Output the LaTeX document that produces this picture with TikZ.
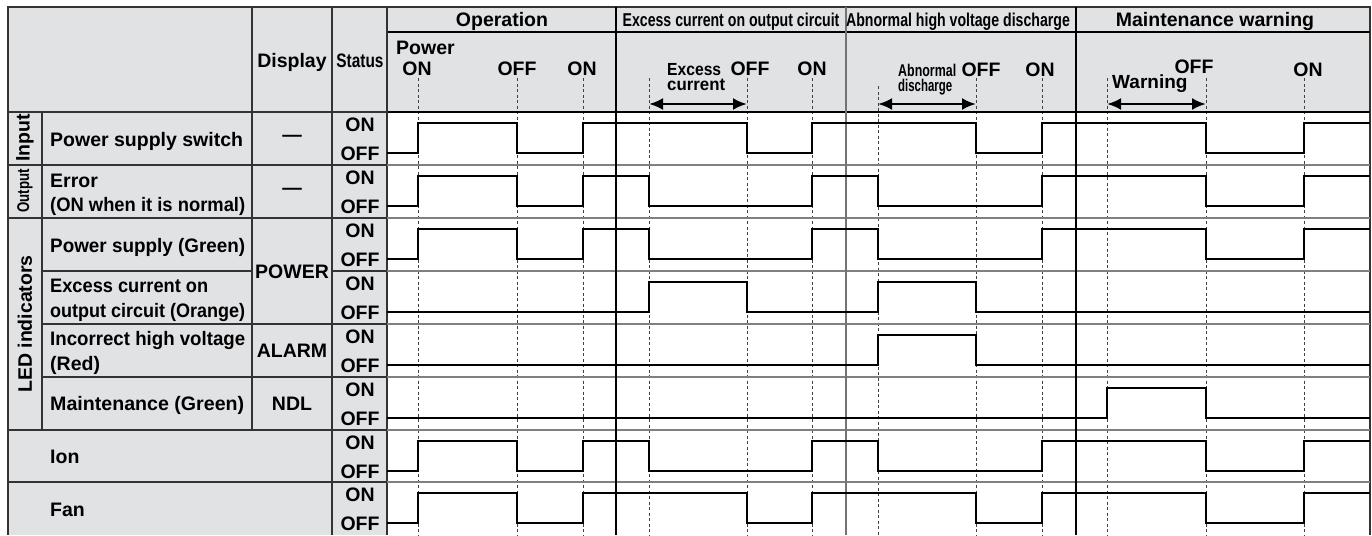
\documentclass[tikz,border=0pt]{standalone}
\usepackage{fontspec}
\setmainfont{Liberation Sans}
\usepackage{graphicx}
\usetikzlibrary{arrows.meta}
\definecolor{hdr}{RGB}{225,226,228}
\newcommand{\mybf}{\fontsize{19.5}{22}\selectfont\bfseries}
\newcommand{\mysm}{\fontsize{17.5}{20}\selectfont\bfseries}
\newcommand{\mycond}[2][0.77]{\scalebox{#1}[1]{#2}}
\newcommand{\fitw}[2]{\resizebox{#1}{\height}{#2}}
\begin{document}
\begin{tikzpicture}[x=1pt,y=-1pt,
  every node/.style={inner sep=0pt,font=\mybf},
  tline/.style={draw=black!80,line width=1.1pt},
  wline/.style={draw=black!50,line width=1.1pt},
  secline/.style={draw=black,line width=1.1pt},
  dashln/.style={draw=black!75,line width=0.9pt,dash pattern=on 3pt off 2.5pt},
  wave/.style={draw=black,line width=2.6pt,line join=miter,line cap=butt},
  dbl/.style={line width=2.6pt,{Latex[length=14pt,width=12pt]}-{Latex[length=14pt,width=12pt]}},
  lab/.style={anchor=base west},
  cen/.style={anchor=base}]
\useasboundingbox (0,0) rectangle (1372,535);
\fill[white] (0,0) rectangle (1372,535);
% grey areas
\fill[hdr] (8,7) rectangle (1370,112);
\fill[hdr] (8,112) rectangle (387,535);
% dashed time markers
\foreach \x in {418,517,583,649,747,812,976,1042,1107,1206,1304}
  \draw[dashln] (\x,78) -- (\x,535);
\draw[dashln] (878,86) -- (878,535);
% table lines (left part)
\draw[tline] (8,535) -- (8,7) -- (1370,7) -- (1370,535);
\draw[tline] (8,112) -- (387,112);
\draw[secline] (387,112) -- (1370,112);
\draw[secline] (387,32) -- (1370,32);
\draw[tline] (252,7) -- (252,430);
\draw[tline] (332,7) -- (332,535);
\draw[tline] (387,7) -- (387,535);
\draw[tline] (42,112) -- (42,430);
\draw[tline] (8,165) -- (387,165);
\draw[tline] (8,218) -- (387,218);
\draw[tline] (42,271) -- (252,271);
\draw[tline] (332,271) -- (387,271);
\draw[tline] (42,324) -- (387,324);
\draw[tline] (42,377) -- (387,377);
\draw[tline] (8,430) -- (387,430);
\draw[tline] (8,482) -- (387,482);
% row separators in waveform area
\foreach \y in {165,218,271,324,377,430,482}
  \draw[wline] (387,\y) -- (1370,\y);
% section dividers
\draw[secline] (616,7) -- (616,535);
\draw[draw=black!55,line width=1.1pt] (846,7) -- (846,535);
\draw[secline] (1076,7) -- (1076,535);
% waveforms
\draw[wave] (387,153) -| (418,123) -| (517,153) -| (583,123) -| (747,153) -| (812,123) -| (976,153) -| (1042,123) -| (1206,153) -| (1304,123) -- (1370,123);
\draw[wave] (387,206) -| (418,176) -| (517,206) -| (583,176) -| (649,206) -| (812,176) -| (878,206) -| (1042,176) -| (1206,206) -| (1304,176) -- (1370,176);
\draw[wave] (387,259) -| (418,229) -| (517,259) -| (583,229) -| (649,259) -| (812,229) -| (878,259) -| (1042,229) -| (1206,259) -| (1304,229) -- (1370,229);
\draw[wave] (387,312) -| (649,282) -| (747,312) -| (878,282) -| (976,312) -- (1370,312);
\draw[wave] (387,365) -| (878,335) -| (976,365) -- (1370,365);
\draw[wave] (387,418) -| (1107,388) -| (1206,418) -- (1370,418);
\draw[wave] (387,471) -| (418,441) -| (517,471) -| (583,441) -| (649,471) -| (812,441) -| (878,471) -| (1042,441) -| (1206,471) -| (1304,441) -- (1370,441);
\draw[wave] (387,523) -| (418,493) -| (517,523) -| (583,493) -| (747,523) -| (812,493) -| (976,523) -| (1042,493) -| (1206,523) -| (1304,493) -- (1370,493);
% duration arrows
\coordinate (a1s) at (649,104); \coordinate (a1e) at (747,104);
\coordinate (a2s) at (878,104); \coordinate (a2e) at (976,104);
\coordinate (a3s) at (1107,104); \coordinate (a3e) at (1206,104);
\draw[dbl] (a1s) -- (a1e);
\draw[dbl] (a2s) -- (a2e);
\draw[dbl] (a3s) -- (a3e);
% header texts
\node[cen] (hDisp) at (292,67) {Display};
\node[cen] (hStat) at (360,67) {\mycond[0.79]{Status}};
\node[cen] (hOp) at (502,26.5) {Operation};
\node[cen,font=\fontsize{18.6}{20}\selectfont\bfseries] (hEx) at (731,26.5) {\mycond[0.76]{Excess current on output circuit}};
\node[cen,font=\fontsize{18.6}{20}\selectfont\bfseries] (hAb) at (958,26.5) {\mycond[0.76]{Abnormal high voltage discharge}};
\node[cen] (hMa) at (1215,26.5) {Maintenance warning};
\node[lab] (pw) at (396,55) {Power};
\node[cen] (on1) at (417,75) {ON};
\node[cen] (off1) at (517,75) {OFF};
\node[cen] (on2) at (582,75) {ON};
\node[lab,font=\mysm] (exc) at (667,75) {\fitw{54pt}{Excess}};
\node[lab,font=\mysm] (cur) at (667,90) {\fitw{58pt}{current}};
\node[cen] (off2) at (750,75) {OFF};
\node[cen] (on3) at (812,75) {ON};
\node[lab,font=\fontsize{17}{19}\selectfont\bfseries] (abn) at (898,77) {\fitw{58pt}{Abnormal}};
\node[lab,font=\fontsize{17}{19}\selectfont\bfseries] (dis) at (898,92) {\fitw{54pt}{discharge}};
\node[cen] (off3) at (981,76) {OFF};
\node[cen] (on4) at (1040,76) {ON};
\node[lab,font=\fontsize{19}{21}\selectfont\bfseries] (warn) at (1112,88) {Warning};
\node[cen] (off4) at (1194,74) {OFF};
\node[cen] (on5) at (1308,76) {ON};
% category labels
\node[rotate=90] (cIn) at (25,138) {Input};
\node[rotate=90,font=\fontsize{17}{19}\selectfont\bfseries] (cOut) at (25,191) {\mycond[0.78]{Output}};
\node[rotate=90] (cLed) at (25,324) {LED indicators};
% names
\node[lab] (nPsw) at (50,146) {Power supply switch};
\node[lab] (nErr1) at (50,187) {Error};
\node[lab] (nErr2) at (50,211) {\fitw{195pt}{(ON when it is normal)}};
\node[lab] (nPs) at (50,252) {\fitw{195pt}{Power supply (Green)}};
\node[lab] (nEx1) at (50,292) {\fitw{158pt}{Excess current on}};
\node[lab] (nEx2) at (50,317) {\fitw{195pt}{output circuit (Orange)}};
\node[lab] (nIn1) at (50,345) {\fitw{195pt}{Incorrect high voltage}};
\node[lab] (nIn2) at (50,370) {(Red)};
\node[lab] (nMt) at (50,410) {\fitw{194pt}{Maintenance (Green)}};
\node[lab] (nIon) at (50,463) {Ion};
\node[lab] (nFan) at (50,516) {Fan};
% display column
\node (dIn) at (292,138) {---};
\node (dOut) at (292,191) {---};
\node[cen] (dPow) at (292,278) {POWER};
\node[cen] (dAl) at (292,357) {ALARM};
\node[cen] (dNdl) at (292,410) {NDL};
% status column
\foreach \t in {112,165,218,271,324,377,430,482} {
  \node[cen] (son\t) at (360,{\t+19}) {ON};
  \node[cen] (sof\t) at (360,{\t+48}) {OFF};
}
\end{tikzpicture}
\end{document}
